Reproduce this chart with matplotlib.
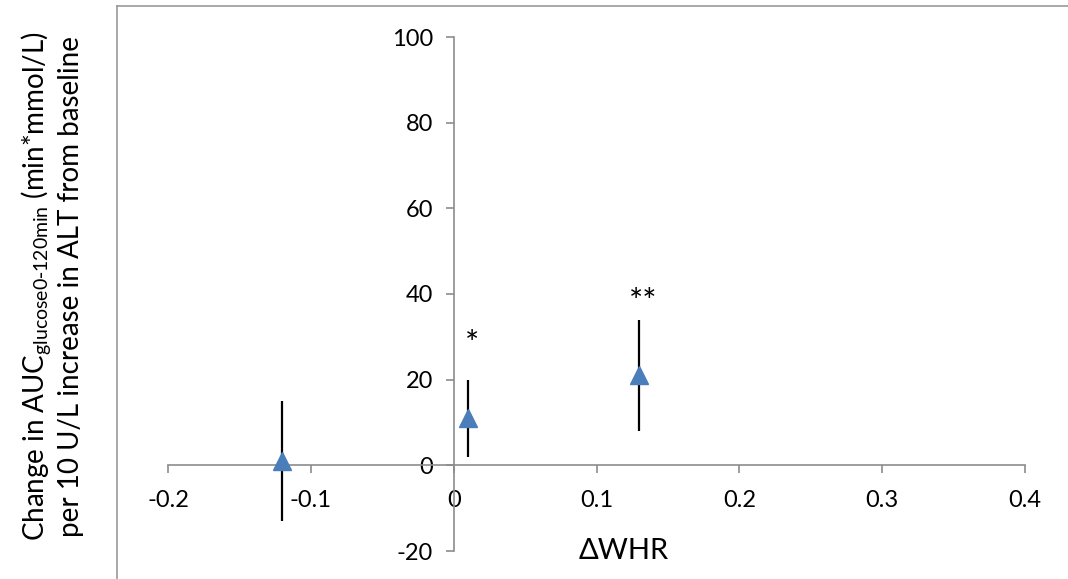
import matplotlib as mpl
from matplotlib import pyplot as plt
from matplotlib.lines import Line2D

mpl.rcParams['font.family'] = ['Lato', 'DejaVu Sans']
mpl.rcParams['axes.unicode_minus'] = False

# data
delta_whr = [-0.12, 0.01, 0.13]
change_auc = [1, 11, 21]
ci_low = [-13, 2, 8]
ci_high = [15, 20, 34]
stars = ['', '*', '**']
star_y = [0, 30, 40]

x_ticks = [-0.2, -0.1, 0, 0.1, 0.2, 0.3, 0.4]
y_ticks = [-20, 0, 20, 40, 60, 80, 100]

fig = plt.figure(figsize=(10.68, 5.79), dpi=100)
ax = fig.add_axes([168 / 1068, 1 - 551 / 579, (1025 - 168) / 1068, (551 - 37) / 579])

yerr = [[v - lo for v, lo in zip(change_auc, ci_low)],
        [hi - v for v, hi in zip(change_auc, ci_high)]]
ax.errorbar(delta_whr, change_auc, yerr=yerr, fmt='none', ecolor='black',
            elinewidth=1.6, capsize=0, zorder=2)
ax.plot(delta_whr, change_auc, linestyle='none', marker='^', markersize=13,
        color='#4A7EBB', zorder=3)

# asterisks sit high in the font, so nudge them down a bit
for x, s, y in zip(delta_whr, stars, star_y):
    if s:
        ax.text(x + 0.003, y - 2, s, ha='center', va='center', fontsize=24)

ax.set_xlim(-0.2, 0.4)
ax.set_ylim(-20, 100)
ax.set_xticks(x_ticks)
ax.set_yticks(y_ticks)
ax.set_xticklabels(['-0.2', '-0.1', '0', '0.1', '0.2', '0.3', '0.4'])

for side in ['top', 'right']:
    ax.spines[side].set_visible(False)
ax.spines['left'].set_position(('data', 0))
ax.spines['bottom'].set_position(('data', 0))
for side in ['left', 'bottom']:
    ax.spines[side].set_color('#8c8c8c')
    ax.spines[side].set_linewidth(1.2)
ax.tick_params(axis='both', colors='#8c8c8c', length=6, width=1.2,
               labelcolor='black', labelsize=17)
ax.tick_params(axis='x', pad=12)
ax.tick_params(axis='y', pad=9)
ax.patch.set_visible(False)

fig.text(624 / 1068, 1 - 551 / 579, 'ΔWHR', ha='center', va='center', fontsize=21)
fig.text(52 / 1068, 0.505,
         'Change in AUC$_{\\mathregular{glucose0\\text{-}120min}}$ (min*mmol/L)\n'
         'per 10 U/L increase in ALT from baseline',
         rotation=90, ha='center', va='center', fontsize=20, linespacing=1.2)

# outer frame lines
fig.add_artist(Line2D([117 / 1068, 117 / 1068], [0, 1 - 6 / 579], color='#999999', lw=1.2))
fig.add_artist(Line2D([117 / 1068, 1], [1 - 6 / 579, 1 - 6 / 579], color='#999999', lw=1.2))

fig.savefig('out.png', dpi=100)
